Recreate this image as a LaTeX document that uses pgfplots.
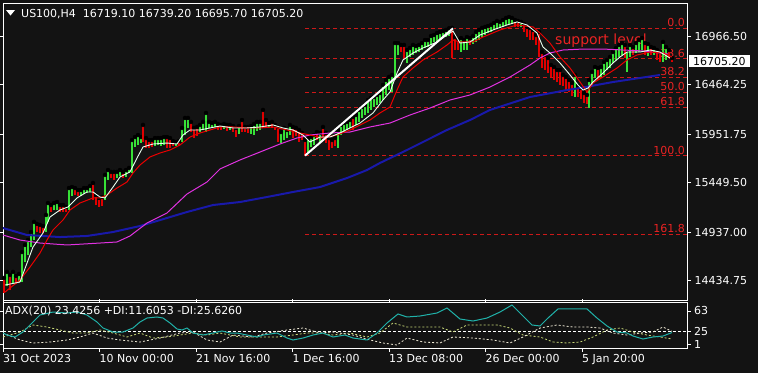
\documentclass[border=0pt]{standalone}
\usepackage{pgfplots}
\usepackage{pgfplotstable}
\pgfplotsset{compat=1.18}
\usepackage{fontspec}
\setmainfont{DejaVu Sans}
\definecolor{bgc}{RGB}{19,19,19}
\definecolor{barup}{RGB}{55,225,55}
\definecolor{bardn}{RGB}{225,0,0}
\definecolor{fibred}{RGB}{205,25,25}
\definecolor{fibtext}{RGB}{235,35,35}
\definecolor{mawhite}{RGB}{235,255,240}
\definecolor{mared}{RGB}{235,0,0}
\definecolor{mamag}{RGB}{225,50,225}
\definecolor{mablue}{RGB}{25,25,170}
\definecolor{adxc}{RGB}{32,178,170}
\definecolor{pdic}{RGB}{200,215,120}
\definecolor{mdic}{RGB}{240,235,215}
\newcommand\lab{\fontsize{11bp}{13bp}\selectfont}

\pgfplotstableread{
x h l
7 14527 14382
13 14527 14413
19 14506 14423
22 14733 14423
25 14806 14630
28 14857 14702
31 14940 14785
34 15044 14857
46 15116 14940
48 15240 15044
54 15240 15168
57 15250 15168
69 15395 15168
72 15405 15312
81 15374 15312
84 15395 15333
87 15395 15343
90 15416 15354
105 15530 15271
108 15581 15478
117 15561 15498
120 15581 15519
126 15581 15509
129 15602 15550
132 15891 15550
135 15922 15819
138 15943 15840
141 15922 15860
155 15912 15829
158 15912 15840
161 15912 15829
164 15922 15840
176 15871 15829
182 16016 15871
185 16119 15943
188 16119 16016
200 16047 15974
203 16078 15995
206 16171 15974
209 16078 16016
212 16067 16026
215 16078 16026
224 16057 16005
230 16047 15995
239 16036 15953
251 16036 15953
254 16057 15943
257 16078 15984
260 16078 15995
269 16067 16026
281 15974 15860
284 16016 15891
287 15995 15912
290 16047 15943
308 15912 15767
311 15922 15819
314 15943 15840
320 15964 15871
338 15995 15809
341 16047 15943
344 16067 15974
347 16078 15995
350 16098 16016
356 16150 16047
359 16202 16078
362 16233 16119
365 16253 16150
368 16305 16171
371 16326 16202
374 16336 16233
377 16357 16253
380 16377 16274
383 16460 16305
386 16512 16357
389 16543 16408
392 16564 16388
395 16894 16512
398 16894 16770
407 16822 16688
410 16843 16750
413 16874 16770
416 16863 16791
419 16874 16801
422 16894 16822
425 16925 16843
428 16925 16853
431 16967 16874
434 16977 16905
437 16998 16915
440 17008 16925
443 17018 16946
446 17029 16956
449 17046 16967
461 16946 16801
464 16925 16822
467 16956 16822
473 16967 16884
476 17008 16905
479 17029 16925
482 17050 16956
485 17060 16977
488 17070 16998
491 17081 17008
494 17101 17029
497 17122 17050
500 17112 17050
503 17132 17060
506 17153 17081
509 17163 17091
512 17153 17091
521 17112 17060
575 16564 16336
589 16512 16225
592 16595 16460
595 16646 16533
601 16646 16543
604 16698 16564
607 16719 16615
610 16750 16636
613 16801 16688
616 16843 16719
619 16874 16750
622 16894 16770
627 16822 16595
630 16874 16750
636 16894 16791
639 16925 16801
642 16946 16822
648 16884 16760
654 16843 16770
663 16905 16698
666 16853 16719
}\upbars

\pgfplotstableread{
x h l
4 14465 14309
10 14496 14340
16 14485 14402
37 15023 14940
40 15013 14930
43 15002 14930
51 15219 15147
60 15219 15147
63 15219 15147
66 15199 15147
75 15395 15323
78 15374 15312
93 15447 15271
96 15323 15219
99 15292 15199
102 15302 15209
111 15561 15498
114 15561 15478
123 15561 15498
143 16047 15871
146 15912 15809
149 15891 15809
152 15891 15819
167 15922 15809
170 15912 15809
173 15881 15829
179 15881 15829
191 16078 15974
194 16016 15912
197 16026 15933
218 16057 15995
221 16047 15995
227 16047 15984
233 16036 15974
236 16016 15922
242 16098 15974
245 16026 15974
248 16026 15964
263 16202 16016
266 16098 16016
272 16078 16016
275 16047 15995
278 16026 15871
293 16026 15912
296 16016 15933
299 15995 15871
302 15964 15891
305 15891 15728
317 15974 15891
323 16026 15922
326 15964 15860
329 15912 15788
332 15891 15809
335 15912 15829
353 16129 15995
401 16874 16801
404 16874 16739
452 17050 16739
455 16956 16822
458 16925 16822
470 16946 16874
515 17132 17060
518 17122 17060
524 17091 17008
527 17060 16956
530 17050 16925
533 17029 16925
536 16977 16874
539 17008 16750
542 16801 16636
545 16770 16615
548 16739 16584
551 16667 16543
554 16646 16512
557 16615 16491
560 16615 16460
563 16564 16450
566 16543 16408
569 16512 16388
572 16481 16346
578 16450 16336
581 16429 16315
584 16377 16274
587 16357 16264
598 16636 16512
625 16874 16739
633 16853 16770
645 16894 16770
651 16853 16770
657 16822 16719
660 16801 16698
669 16822 16739
672 16739 16696
}\dnbars

\begin{document}
\begin{tikzpicture}
\fill[bgc] (0,0) rectangle (758bp,-373bp);
\useasboundingbox (0,0) rectangle (758bp,-373bp);
\fill[white] (6bp,-10bp) -- (15bp,-10bp) -- (10.5bp,-15.5bp) -- cycle;
\node[anchor=base west, inner sep=0pt, text=white, font=\lab] at (21bp,-17bp) {US100,H4\hspace{7bp}16719.10 16739.20 16695.70 16705.20};

\begin{axis}[
  at={(3bp,-3bp)}, anchor=north west,
  scale only axis, width=684bp, height=297bp,
  xmin=3, xmax=687, ymin=14237, ymax=17308,
  axis line style={draw=white, line width=0.8bp},
  xtick=\empty,
  ytick={14434.75,14937,15449.5,15951.75,16464.25,16966.5},
  yticklabels={14434.75,14937.00,15449.50,15951.75,16464.25,16966.50},
  yticklabel pos=right,
  tick align=outside, major tick length=4bp,
  tick style={draw=white, line width=0.8bp},
  tick label style={font=\lab, text=white},
  clip mode=individual,
]
% Fibonacci levels
\addplot[fibred, line width=0.8bp, dash pattern=on 4bp off 3bp] coordinates {(305,17046) (687,17046)};
\addplot[fibred, line width=0.8bp, dash pattern=on 4bp off 3bp] coordinates {(305,16735) (687,16735)};
\addplot[fibred, line width=0.8bp, dash pattern=on 4bp off 3bp] coordinates {(305,16543) (687,16543)};
\addplot[fibred, line width=0.8bp, dash pattern=on 4bp off 3bp] coordinates {(305,16388) (687,16388)};
\addplot[fibred, line width=0.8bp, dash pattern=on 4bp off 3bp] coordinates {(305,16233) (687,16233)};
\addplot[fibred, line width=0.8bp, dash pattern=on 4bp off 3bp] coordinates {(305,15730) (687,15730)};
\addplot[fibred, line width=0.8bp, dash pattern=on 4bp off 3bp] coordinates {(305,14917) (687,14917)};
\node[anchor=south east, inner sep=1bp, text=fibtext, font=\lab] at (axis cs:686,17046) {0.0};
\node[anchor=south east, inner sep=1bp, text=fibtext, font=\lab] at (axis cs:686,16735) {23.6};
\node[anchor=south east, inner sep=1bp, text=fibtext, font=\lab] at (axis cs:686,16543) {38.2};
\node[anchor=south east, inner sep=1bp, text=fibtext, font=\lab] at (axis cs:686,16388) {50.0};
\node[anchor=south east, inner sep=1bp, text=fibtext, font=\lab] at (axis cs:686,16233) {61.8};
\node[anchor=south east, inner sep=1bp, text=fibtext, font=\lab] at (axis cs:686,15730) {100.0};
\node[anchor=south east, inner sep=1bp, text=fibtext, font=\lab] at (axis cs:686,14917) {161.8};
\node[anchor=base west, inner sep=0pt, text=fibtext, font=\fontsize{14bp}{16bp}\selectfont] at (axis cs:555,16884) {support level};

% bars
\addplot[only marks, mark=none, forget plot,
  error bars/.cd, y dir=minus, y explicit, error mark=none,
  error bar style={line width=1.2bp, draw=barup}]
  table[x=x, y=h, y error minus expr=\thisrow{h}-\thisrow{l}] {\upbars};
\addplot[only marks, mark=none, forget plot,
  error bars/.cd, y dir=minus, y explicit, error mark=none,
  error bar style={line width=1.2bp, draw=bardn}]
  table[x=x, y=h, y error minus expr=\thisrow{h}-\thisrow{l}] {\dnbars};

% moving averages
\addplot[mablue, line width=2bp] coordinates {(3,14981) (27,14909) (60,14888) (87,14899) (113,14940) (140,15002) (167,15085) (187,15147) (213,15219) (240,15250) (267,15302) (293,15354) (320,15405) (347,15498) (367,15581) (380,15654) (407,15788) (447,15995) (470,16098) (490,16202) (530,16336) (567,16408) (580,16429) (613,16491) (660,16564)};
\addplot[mamag, line width=1bp] coordinates {(3,14909) (20,14857) (40,14826) (67,14806) (100,14826) (117,14837) (130,14899) (147,15033) (167,15137) (187,15333) (207,15457) (220,15592) (240,15685) (260,15767) (280,15850) (297,15912) (310,15943) (330,15964) (350,15974) (370,16026) (390,16067) (410,16150) (430,16222) (450,16305) (470,16357) (490,16439) (510,16543) (530,16667) (540,16739) (550,16791) (563,16822) (583,16832) (603,16832) (623,16822) (643,16812) (660,16791) (668,16781)};
\addplot[mared, line width=1bp] coordinates {(5,14319) (20,14444) (30,14578) (40,14723) (47,14857) (53,14961) (63,15064) (70,15168) (80,15240) (93,15292) (100,15292) (107,15323) (117,15395) (127,15457) (133,15550) (140,15633) (150,15716) (160,15757) (170,15788) (180,15840) (190,15922) (200,15964) (210,15995) (220,16026) (233,16026) (247,16016) (260,16016) (273,16026) (287,15995) (300,15964) (310,15943) (323,15912) (337,15943) (350,15995) (360,16047) (370,16098) (380,16171) (390,16233) (397,16408) (403,16543) (413,16636) (423,16719) (437,16801) (447,16874) (453,16925) (460,16905) (473,16905) (483,16956) (500,17029) (517,17081) (533,17060) (540,16998) (550,16894) (560,16750) (570,16636) (580,16491) (587,16388) (593,16481) (603,16543) (617,16636) (627,16719) (637,16770) (650,16801) (663,16791) (672,16750)};
\addplot[mawhite, line width=0.9bp] coordinates {(5,14392) (20,14423) (33,14785) (43,14930) (50,15095) (60,15168) (68,15199) (77,15292) (87,15354) (93,15354) (100,15302) (105,15292) (113,15405) (120,15509) (130,15561) (137,15705) (143,15819) (153,15850) (167,15860) (177,15850) (183,15943) (190,15995) (200,15995) (210,16016) (220,16036) (233,16016) (247,16016) (260,16026) (273,16047) (283,16016) (293,15995) (303,15943) (310,15871) (320,15922) (330,15922) (340,15964) (350,16016) (360,16067) (373,16171) (383,16305) (390,16388) (397,16584) (403,16719) (413,16791) (423,16843) (437,16905) (447,16977) (453,17018) (460,16894) (470,16905) (480,16977) (493,17029) (507,17081) (517,17112) (527,17081) (537,16998) (543,16853) (550,16791) (560,16688) (570,16564) (578,16460) (583,16408) (588,16429) (593,16491) (603,16584) (613,16688) (620,16750) (627,16801) (640,16801) (650,16822) (660,16801) (670,16739)};
% fib trend line
\addplot[white, line width=2bp] coordinates {(305,15730) (453,17046)};
% current price tag
\node[anchor=west, fill=white, text=black, font=\lab, inner xsep=4bp, inner ysep=2bp] at (axis cs:689,16705.2) {16705.20};
\end{axis}

\begin{axis}[
  at={(3bp,-302.7bp)}, anchor=north west,
  scale only axis, width=684bp, height=45.3bp,
  xmin=3, xmax=687, ymin=-4.9, ymax=78.2,
  axis line style={draw=white, line width=0.8bp},
  ytick={1,25,63}, yticklabels={1,25,63},
  yticklabel pos=right,
  xtick={3,99.5,196,292.5,389,485.5,582},
  xticklabels={31 Oct 2023,10 Nov 00:00,21 Nov 16:00,1 Dec 16:00,13 Dec 08:00,26 Dec 00:00,5 Jan 20:00},
  xticklabel style={anchor=north west, inner sep=0pt, yshift=-3bp},
  tick align=outside, major tick length=3.5bp,
  tick style={draw=white, line width=0.8bp},
  tick label style={font=\lab, text=white},
  clip mode=individual,
]
\addplot[white, line width=0.7bp, dash pattern=on 3bp off 2bp] coordinates {(3,25) (687,25)};
\addplot[pdic, line width=0.8bp, dash pattern=on 2bp off 2bp] coordinates {(3,15.3) (20,24.4) (33,37.3) (47,33.6) (60,28.1) (73,22.6) (87,22.6) (100,28.1) (113,22.6) (127,15.3) (140,22.6) (153,13.4) (167,15.3) (180,18.9) (193,22.6) (207,18.9) (220,22.6) (240,15.3) (260,15.3) (277,15.3) (293,18.9) (307,22.6) (320,22.6) (333,18.9) (350,22.6) (367,15.3) (380,22.6) (393,41.0) (407,33.6) (423,33.6) (440,33.6) (453,24.4) (467,37.3) (483,37.3) (497,37.3) (510,31.8) (523,18.9) (540,15.3) (553,6.1) (567,4.3) (580,6.1) (593,15.3) (607,28.1) (620,31.8) (633,24.4) (647,18.9) (660,15.3) (672,11.6)};
\addplot[mdic, line width=0.8bp, dash pattern=on 2bp off 2bp] coordinates {(3,22.6) (20,9.8) (33,4.3) (50,6.1) (67,9.8) (80,15.3) (93,22.6) (107,13.4) (120,9.8) (140,6.1) (160,13.4) (180,22.6) (193,24.4) (207,9.8) (220,6.1) (233,18.9) (253,15.3) (267,22.6) (287,28.1) (303,31.8) (320,22.6) (333,24.4) (353,18.9) (370,9.8) (383,4.3) (397,0.6) (407,13.4) (423,6.1) (440,4.3) (453,15.3) (473,13.4) (493,9.8) (510,4.3) (523,15.3) (540,31.8) (557,37.3) (573,33.6) (587,33.6) (600,31.8) (613,22.6) (627,18.9) (640,22.6) (653,24.4) (663,33.6) (672,25.6)};
\addplot[adxc, line width=1bp] coordinates {(3,22.6) (7,18.9) (15,15.3) (23,24.4) (32,41.0) (40,55.6) (53,61.1) (67,59.3) (77,61.1) (87,55.6) (97,42.8) (103,31.8) (113,24.4) (123,24.4) (133,31.8) (140,42.8) (147,50.1) (157,52.0) (163,50.1) (170,41.0) (177,30.0) (182,28.1) (187,31.8) (193,22.6) (203,18.9) (213,22.6) (222,26.3) (230,22.6) (237,22.6) (247,18.9) (257,15.3) (263,18.9) (277,22.6) (287,13.4) (293,9.8) (303,13.4) (313,18.9) (323,22.6) (333,15.3) (345,18.9) (353,13.4) (367,9.8) (377,22.6) (387,41.0) (398,57.5) (407,52.0) (420,53.8) (437,59.3) (447,68.5) (460,48.3) (473,44.6) (487,50.1) (500,61.1) (512,74.0) (522,55.6) (532,37.3) (540,35.5) (548,50.1) (558,66.7) (573,66.7) (587,66.7) (597,50.1) (607,35.5) (617,24.4) (627,22.6) (633,17.1) (643,11.6) (653,15.3) (663,17.1) (672,23.4)};
\node[anchor=base west, inner sep=0pt, text=white, font=\lab] at (axis cs:5,56) {ADX(20) 23.4256 +DI:11.6053 -DI:25.6260};
\end{axis}
\end{tikzpicture}
\end{document}
